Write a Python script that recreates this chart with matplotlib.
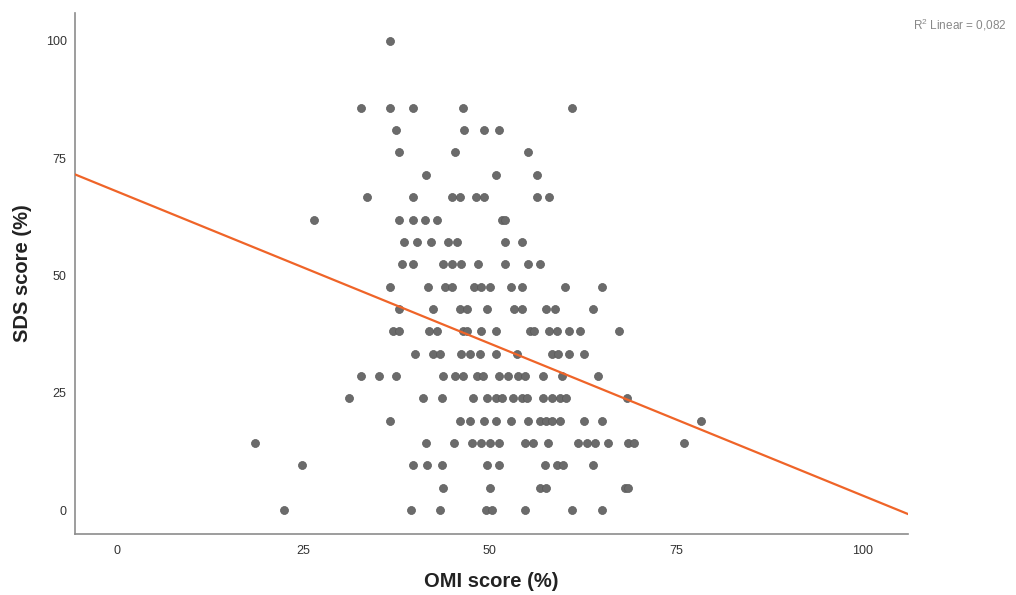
import numpy as np
import matplotlib
matplotlib.use("Agg")
import matplotlib.pyplot as plt

# SDS levels (y) and OMI scores (x), one list per level
sds_levels = [100.0, 85.7, 81.0, 76.2, 71.4, 66.7, 61.9, 57.1, 52.4, 47.6,
              42.9, 38.1, 33.3, 28.6, 23.8, 19.0, 14.3, 9.5, 4.8, 0.0]
omi_rows = [
    [36.7],
    [32.7, 36.7, 39.7, 46.4, 61.1],
    [37.4, 46.6, 49.2, 51.3],
    [37.8, 45.3, 55.2],
    [41.4, 50.9, 56.4],
    [33.5, 39.7, 45.0, 46.0, 48.1, 49.3, 56.4, 57.9],
    [26.4, 37.8, 39.7, 41.3, 43.0, 51.6, 52.1],
    [38.5, 40.2, 42.2, 44.4, 45.6, 52.0, 54.4],
    [38.2, 39.7, 43.7, 45.0, 46.2, 48.5, 52.0, 55.1, 56.7],
    [36.6, 41.7, 44.0, 45.0, 47.9, 48.9, 50.0, 52.8, 54.3, 60.1, 65.0],
    [37.8, 42.4, 46.0, 46.9, 49.6, 53.2, 54.4, 57.6, 58.7, 63.9],
    [37.0, 37.9, 41.9, 42.9, 46.4, 46.9, 48.9, 50.9, 55.4, 56.0, 58.0, 59.0,
     60.7, 62.1, 67.4],
    [40.0, 42.4, 43.3, 46.2, 47.3, 48.7, 50.9, 53.6, 58.4, 59.2, 60.7, 62.7],
    [32.8, 35.1, 37.5, 43.7, 45.3, 46.4, 48.3, 49.1, 51.3, 52.4, 53.8, 54.7,
     57.1, 59.7, 64.5],
    [31.1, 41.0, 43.6, 47.7, 49.7, 50.8, 51.7, 53.1, 54.3, 55.0, 57.1, 58.3,
     59.4, 60.3, 68.4],
    [36.6, 46.0, 47.3, 49.3, 50.9, 52.8, 55.2, 56.7, 57.6, 58.4, 59.4, 62.7,
     65.0, 78.4],
    [18.6, 41.4, 45.2, 47.6, 48.9, 50.0, 51.3, 54.7, 55.8, 57.8, 61.8, 63.0,
     64.1, 65.8, 68.5, 69.3, 76.1],
    [24.8, 39.7, 41.6, 43.6, 49.6, 51.2, 57.4, 59.0, 59.8, 63.9],
    [43.7, 50.1, 56.7, 57.6, 68.1, 68.6],
    [22.4, 39.5, 43.4, 49.5, 50.3, 54.7, 61.1, 65.1],
]

# linear fit as drawn in the chart
fit_intercept = 67.9
fit_slope = -0.648
r2_text = "$\\mathregular{R^2}$ Linear = 0,082"

omi = np.concatenate([np.array(r) for r in omi_rows])
sds = np.concatenate([np.full(len(r), lvl) for r, lvl in zip(omi_rows, sds_levels)])

plt.rcParams["font.family"] = ["Liberation Sans", "DejaVu Sans"]

fig = plt.figure(figsize=(10.16, 5.95), dpi=100)
ax = fig.add_axes([0.0738, 0.1025, 0.82, 0.8755])

ax.scatter(omi, sds, s=33, color="#6b6b6b", edgecolors="#5a5a5a",
           linewidths=0.5, zorder=3)

xlim = (-5.6, 106.1)
xs = np.array(xlim)
ax.plot(xs, fit_intercept + fit_slope * xs, color="#ef6428", linewidth=1.6,
        zorder=4)

ax.set_xlim(*xlim)
ax.set_ylim(-5.1, 105.9)
ax.set_xticks([0, 25, 50, 75, 100])
ax.set_yticks([0, 25, 50, 75, 100])
ax.tick_params(length=0, labelsize=9, colors="#333333")
ax.tick_params(axis="x", pad=8)
ax.tick_params(axis="y", pad=6)

for side in ("top", "right"):
    ax.spines[side].set_visible(False)
for side in ("left", "bottom"):
    ax.spines[side].set_color("#8c8c8c")
    ax.spines[side].set_linewidth(1.2)

ax.set_xlabel("OMI score (%)", fontsize=14.5, fontweight="bold",
              color="#222222", labelpad=11)
ax.set_ylabel("SDS score (%)", fontsize=14.5, fontweight="bold",
              color="#222222", labelpad=10)

fig.text(0.991, 0.958, r2_text, ha="right", va="center", fontsize=8.5,
         color="#888888")

fig.savefig("out.png", dpi=100)
